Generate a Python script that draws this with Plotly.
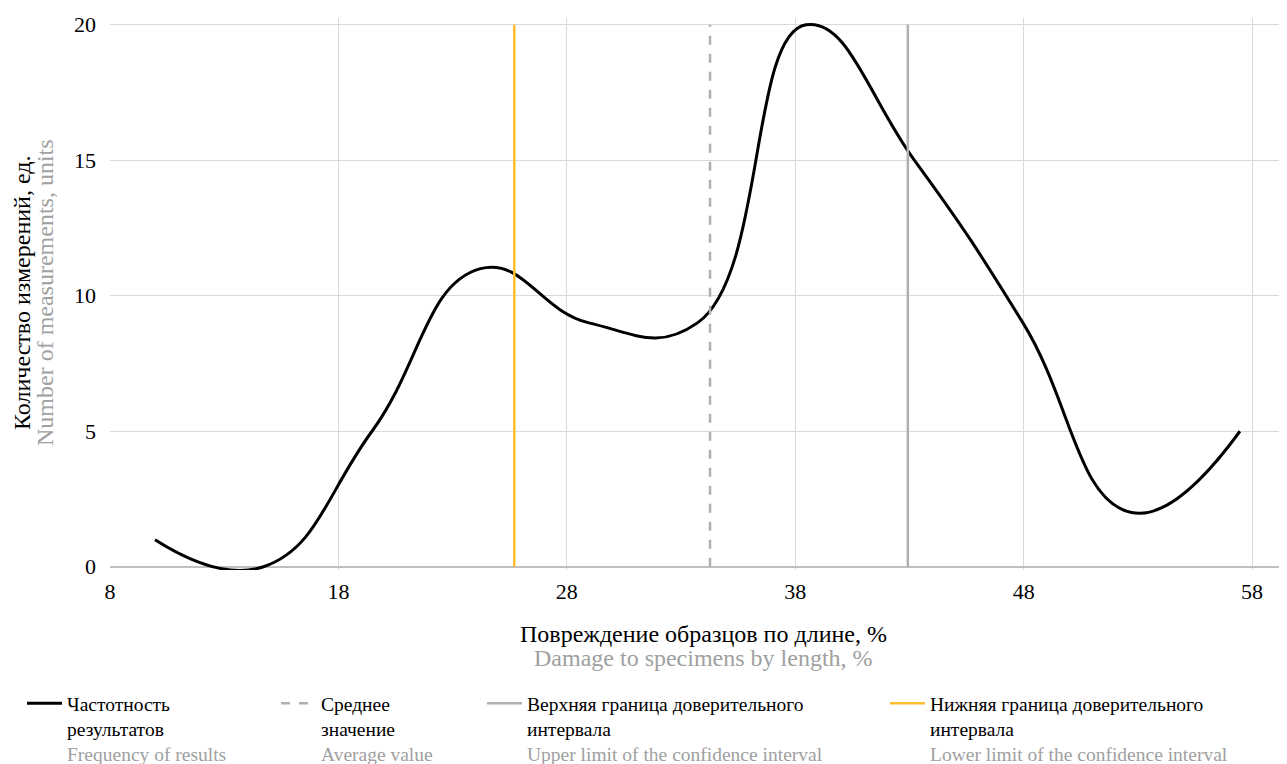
import plotly.graph_objects as go

# Data
damage_pct = [9.97, 14.72, 19.47, 24.22, 28.97, 33.72, 38.47, 43.22, 47.97, 52.72, 57.47]
frequency = [1, 0, 5, 11, 9, 9, 20, 15, 9, 2, 5]
mean_value = 34.27
upper_limit = 42.93
lower_limit = 25.70
y_span = [0, 20]
x_ticks = [8, 18, 28, 38, 48, 58]
y_ticks = [0, 5, 10, 15, 20]

FONT = "Liberation Serif"
GRAY_TXT = "#A0A0A0"
GRAY_LINE = "#AEB0B3"
GOLD_LINE = "#FDBD2C"

x_title_ru = "Повреждение образцов по длине, %"
x_title_en = "Damage to specimens by length, %"
y_title_ru = "Количество измерений, ед."
y_title_en = "Number of measurements, units"

def name(ru, en):
    return ru + "<br><span style='color:" + GRAY_TXT + "'>" + en + "</span>"

fig = go.Figure()
fig.add_trace(go.Scatter(
    x=damage_pct, y=frequency, mode="lines",
    line=dict(color="black", width=3, shape="spline", smoothing=1.3),
    name=name("Частотность<br>результатов", "Frequency of results"),
    legend="legend"))
fig.add_trace(go.Scatter(
    x=[mean_value, mean_value], y=y_span, mode="lines",
    line=dict(color=GRAY_LINE, width=2.5, dash="dash"),
    name=name("Среднее<br>значение", "Average value"),
    legend="legend2"))
fig.add_trace(go.Scatter(
    x=[upper_limit, upper_limit], y=y_span, mode="lines",
    line=dict(color=GRAY_LINE, width=2.5),
    name=name("Верхняя граница доверительного<br>интервала", "Upper limit of the confidence interval"),
    legend="legend3"))
fig.add_trace(go.Scatter(
    x=[lower_limit, lower_limit], y=y_span, mode="lines",
    line=dict(color=GOLD_LINE, width=2.5),
    name=name("Нижняя граница доверительного<br>интервала", "Lower limit of the confidence interval"),
    legend="legend4"))

# page is rendered with an 8px body margin; work in page pixels
OFF = 8
W, H = 1287, 764
plot_left, plot_right, plot_top, plot_bottom = 110, 1287, 18, 570   # page px
L = plot_left - OFF
T = plot_top - OFF
R = W - (plot_right - OFF)
B = H - (plot_bottom - OFF)
pw = W - L - R
ph = H - T - B

def px_x(px):
    return (px - plot_left) / pw

def px_y(py):
    return (plot_bottom - py) / ph

leg_common = dict(font=dict(family=FONT, size=19.5, color="black"),
                  orientation="v", yanchor="top", xanchor="left",
                  y=px_y(684), itemwidth=35, valign="top",
                  bgcolor="rgba(0,0,0,0)", tracegroupgap=0)

title_font = dict(family=FONT, size=24, color="black")
title_font_en = dict(family=FONT, size=24, color=GRAY_TXT)

annotations = [
    dict(text=x_title_ru, xref="paper", yref="paper", x=px_x(703), y=px_y(634),
         xanchor="center", yanchor="middle", showarrow=False, font=title_font),
    dict(text=x_title_en, xref="paper", yref="paper", x=px_x(703), y=px_y(658),
         xanchor="center", yanchor="middle", showarrow=False, font=title_font_en),
    dict(text=y_title_ru, xref="paper", yref="paper", x=px_x(22), y=px_y(293),
         xanchor="center", yanchor="middle", showarrow=False, textangle=-90, font=title_font),
    dict(text=y_title_en, xref="paper", yref="paper", x=px_x(45), y=px_y(293),
         xanchor="center", yanchor="middle", showarrow=False, textangle=-90, font=title_font_en),
]

fig.update_layout(
    width=W, height=H,
    margin=dict(l=L, r=R, t=T, b=B, autoexpand=False),
    paper_bgcolor="white", plot_bgcolor="white",
    font=dict(family=FONT, size=20, color="black"),
    showlegend=True,
    legend=dict(x=px_x(22), **leg_common),
    legend2=dict(x=px_x(276), **leg_common),
    legend3=dict(x=px_x(482), **leg_common),
    legend4=dict(x=px_x(885), **leg_common),
    annotations=annotations,
    xaxis=dict(
        range=[8, 59.53], tickvals=x_ticks, ticktext=[str(v) for v in x_ticks],
        showgrid=True, gridcolor="#D9D9D9", gridwidth=1.3,
        zeroline=False, showline=False, ticks="", ticklabelstandoff=6,
        tickfont=dict(family=FONT, size=22, color="black"), automargin=False,
    ),
    yaxis=dict(
        range=[-0.12, 20.25], tickvals=y_ticks, ticktext=[str(v) for v in y_ticks],
        showgrid=True, gridcolor="#D9D9D9", gridwidth=1.3,
        zeroline=True, zerolinecolor="#BFBFBF", zerolinewidth=1.5,
        showline=False, ticks="", ticklabelstandoff=13,
        tickfont=dict(family=FONT, size=22, color="black"), automargin=False,
    ),
)

fig.write_html("out.html")
